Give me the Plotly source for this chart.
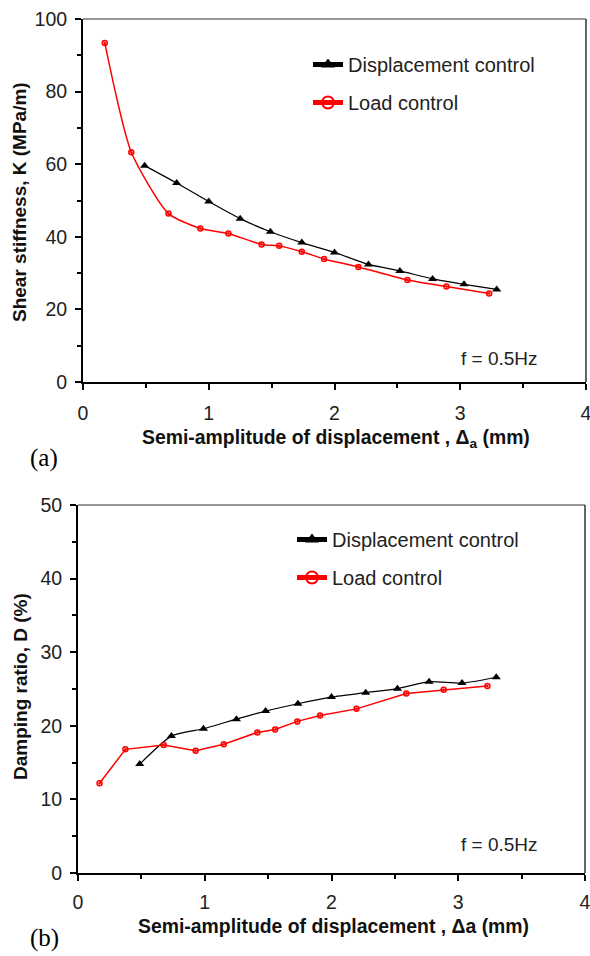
import plotly.graph_objects as go

# ---- Data: (a) Shear stiffness ----
a_disp_x = [0.49, 0.745, 1.0, 1.25, 1.49, 1.74, 2.0, 2.27, 2.52, 2.78, 3.03, 3.29]
a_disp_y = [59.6, 54.8, 49.7, 45.0, 41.4, 38.4, 35.7, 32.4, 30.6, 28.4, 26.9, 25.5]
a_load_x = [0.173, 0.384, 0.68, 0.933, 1.156, 1.42, 1.56, 1.74, 1.917, 2.19, 2.58, 2.89, 3.23]
a_load_y = [93.4, 63.3, 46.4, 42.3, 40.9, 37.9, 37.5, 35.9, 33.9, 31.7, 28.1, 26.3, 24.4]

# ---- Data: (b) Damping ratio ----
b_disp_x = [0.487, 0.737, 0.99, 1.25, 1.48, 1.735, 2.0, 2.27, 2.52, 2.77, 3.03, 3.3]
b_disp_y = [14.8, 18.6, 19.6, 20.9, 22.0, 23.0, 23.9, 24.5, 25.05, 26.0, 25.8, 26.6]
b_load_x = [0.17, 0.374, 0.676, 0.928, 1.15, 1.415, 1.555, 1.73, 1.91, 2.197, 2.59, 2.885, 3.23]
b_load_y = [12.2, 16.8, 17.4, 16.6, 17.5, 19.1, 19.5, 20.6, 21.4, 22.3, 24.4, 24.9, 25.4]

x_ticks = [0, 1, 2, 3, 4]
a_y_ticks = [0, 20, 40, 60, 80, 100]
b_y_ticks = [0, 10, 20, 30, 40, 50]

names = ["Displacement control", "Load control"]

FONT = "Liberation Sans, Arial, sans-serif"
SERIF = "Liberation Serif, Times New Roman, serif"

W, H = 590, 956


def fx(px):
    return px / W


def fy(py):
    return 1 - py / H


fig = go.Figure()

disp_line = dict(color="black", width=1.2, shape="spline", smoothing=0.6)
disp_marker = dict(symbol="triangle-up", size=8, color="black")
load_marker = dict(symbol="circle-open-dot", size=5, color="#ff0000", line=dict(width=1.5, color="#ff0000"))

fig.add_trace(go.Scatter(x=a_disp_x, y=a_disp_y, name=names[0], xaxis="x", yaxis="y", mode="lines+markers",
                         line=disp_line, marker=disp_marker, legend="legend", legendgroup="a1"))
fig.add_trace(go.Scatter(x=a_load_x, y=a_load_y, name=names[1], xaxis="x", yaxis="y", mode="lines+markers",
                         line=dict(color="#ff0000", width=1.5, shape="spline", smoothing=0.6),
                         marker=load_marker, legend="legend", legendgroup="a2"))
fig.add_trace(go.Scatter(x=b_disp_x, y=b_disp_y, name=names[0], xaxis="x2", yaxis="y2", mode="lines+markers",
                         line=disp_line, marker=disp_marker, legend="legend2", legendgroup="b1"))
fig.add_trace(go.Scatter(x=b_load_x, y=b_load_y, name=names[1], xaxis="x2", yaxis="y2", mode="lines+markers",
                         line=dict(color="#ff0000", width=1.5),
                         marker=load_marker, legend="legend2", legendgroup="b2"))

axis_common = dict(showgrid=False, zeroline=False, showline=True, linecolor="black", linewidth=2,
                   ticks="outside", ticklen=6, tickwidth=1.5, tickcolor="black", automargin=False,
                   ticklabeloverflow="allow",
                   tickfont=dict(family=FONT, size=19.5, color="#222"))

top_dom_x = [fx(83), fx(586)]
top_dom_y = [fy(382), fy(19)]
bot_dom_x = [fx(78), fx(585)]
bot_dom_y = [fy(873), fy(505)]

minor_x = dict(dtick=0.5, ticks="outside", ticklen=4, tickwidth=1.5, tickcolor="black")

legend_common = dict(bgcolor="rgba(0,0,0,0)", borderwidth=0, font=dict(family=FONT, size=20, color="#222"),
                     xanchor="left", yanchor="top", tracegroupgap=9, itemwidth=30, itemsizing="constant")

fig.update_layout(
    template="none",
    width=W, height=H, margin=dict(l=0, r=0, t=0, b=0, autoexpand=False),
    paper_bgcolor="white", plot_bgcolor="white", showlegend=True,
    xaxis=dict(domain=top_dom_x, range=[0, 4], tickvals=x_ticks, anchor="y", minor=minor_x,
               ticklabelstandoff=7, **axis_common),
    yaxis=dict(domain=top_dom_y, range=[0, 100], tickvals=a_y_ticks, anchor="x",
               minor=dict(dtick=10, ticks="outside", ticklen=4, tickwidth=1.5, tickcolor="black"),
               ticklabelstandoff=4, **axis_common),
    xaxis2=dict(domain=bot_dom_x, range=[0, 4], tickvals=x_ticks, anchor="y2", minor=minor_x,
                ticklabelstandoff=5, **axis_common),
    yaxis2=dict(domain=bot_dom_y, range=[0, 50], tickvals=b_y_ticks, anchor="x2",
                minor=dict(dtick=5, ticks="outside", ticklen=4, tickwidth=1.5, tickcolor="black"),
                ticklabelstandoff=4, **axis_common),
    legend=dict(x=fx(308), y=fy(45), **legend_common),
    legend2=dict(x=fx(292), y=fy(520), **legend_common),
)

# Top/right borders (gray, thin)
for dx, dy in [(top_dom_x, top_dom_y), (bot_dom_x, bot_dom_y)]:
    fig.add_shape(type="line", xref="paper", yref="paper", x0=dx[0], x1=dx[1], y0=dy[1], y1=dy[1],
                  line=dict(color="#333", width=1.2))
    fig.add_shape(type="line", xref="paper", yref="paper", x0=dx[1], x1=dx[1], y0=dy[0], y1=dy[1],
                  line=dict(color="#333", width=1.5))

# f = 0.5Hz
for ypx in (358, 844):
    fig.add_annotation(xref="paper", yref="paper", x=fx(459), y=fy(ypx), text="f = 0.5Hz", showarrow=False,
                       xanchor="left", yanchor="middle", font=dict(family=FONT, size=19, color="#222"))

# Axis titles
fig.add_annotation(xref="paper", yref="paper", x=fx(336), y=fy(438),
                   text="<b>Semi-amplitude of displacement , Δ<sub>a</sub> (mm)</b>", showarrow=False,
                   xanchor="center", yanchor="middle", font=dict(family=FONT, size=19.4, color="#111"))
fig.add_annotation(xref="paper", yref="paper", x=fx(333), y=fy(926),
                   text="<b>Semi-amplitude of displacement , Δa (mm)</b>", showarrow=False,
                   xanchor="center", yanchor="middle", font=dict(family=FONT, size=19.4, color="#111"))
fig.add_annotation(xref="paper", yref="paper", x=fx(20), y=fy(202),
                   text="<b>Shear stiffness, K (MPa/m)</b>", showarrow=False, textangle=-90,
                   xanchor="center", yanchor="middle", font=dict(family=FONT, size=19, color="#111"))
fig.add_annotation(xref="paper", yref="paper", x=fx(20), y=fy(687),
                   text="<b>Damping ratio, D (%)</b>", showarrow=False, textangle=-90,
                   xanchor="center", yanchor="middle", font=dict(family=FONT, size=19, color="#111"))

# Panel labels
fig.add_annotation(xref="paper", yref="paper", x=fx(44), y=fy(458), text="(a)", showarrow=False,
                   xanchor="center", yanchor="middle", font=dict(family=SERIF, size=25, color="black"))
fig.add_annotation(xref="paper", yref="paper", x=fx(44), y=fy(938), text="(b)", showarrow=False,
                   xanchor="center", yanchor="middle", font=dict(family=SERIF, size=25, color="black"))

fig.write_html("out.html")
